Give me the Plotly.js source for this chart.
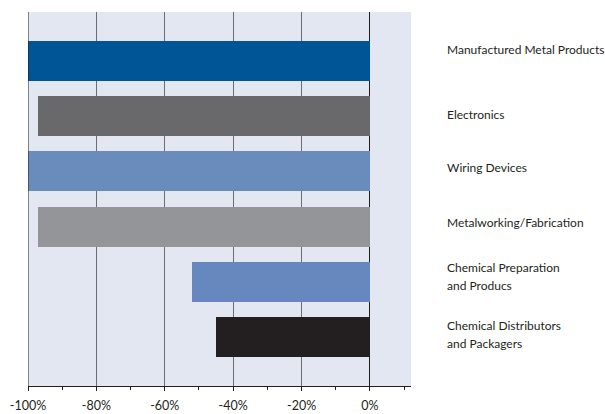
<!DOCTYPE html>
<html>
<head>
<meta charset="utf-8">
<script src="https://cdn.plot.ly/plotly-3.0.1.min.js"></script>
<style>html,body{margin:0;padding:0;background:#fff;}#chart{width:605px;height:414px;}</style>
</head>
<body>
<div id="chart"></div>
<script>
const categories = [
  "Manufactured Metal Products",
  "Electronics",
  "Wiring Devices",
  "Metalworking/Fabrication",
  "Chemical Preparation<br>and Producs",
  "Chemical Distributors<br>and Packagers"
];
const changePct = [-100, -97, -100, -97, -52, -45];
const tickVals = [-100, -80, -60, -40, -20, 0];
const tickText = ["-100%", "-80%", "-60%", "-40%", "-20%", "0%"];

const barColors = ["#005596", "#69696b", "#698cbd", "#939598", "#6688bf", "#231f20"];
const labelShift = [11, 2, 4, 4, 5, 2.5];
const lineGap = 18;

const idx = categories.map((c, i) => i);
const font = "Lato, 'Open Sans', sans-serif";

const trace = {
  type: "bar",
  orientation: "h",
  x: changePct,
  y: idx,
  width: 0.72,
  marker: {color: barColors, line: {width: 0}},
  hoverinfo: "skip"
};

const annotations = [];
categories.forEach((c, i) => {
  const lines = c.split("<br>");
  lines.forEach((ln, j) => {
    const off = (j - (lines.length - 1) / 2) * lineGap;
    annotations.push({
      xref: "paper", yref: "y",
      x: 1, y: i,
      xshift: 34,
      yshift: labelShift[i] - off,
      text: ln,
      showarrow: false,
      xanchor: "left", yanchor: "middle", align: "left",
      font: {family: font, size: 12, color: "#231f20"}
    });
  });
});

const layout = {
  width: 605, height: 414,
  margin: {l: 28, r: 194, t: 12, b: 28},
  paper_bgcolor: "#ffffff",
  plot_bgcolor: "#e3e7f2",
  showlegend: false,
  bargap: 0,
  xaxis: {
    range: [-100, 12],
    tickvals: tickVals,
    ticktext: tickText,
    showgrid: true,
    gridcolor: "#6d6e71",
    gridwidth: 1,
    zeroline: true,
    zerolinecolor: "#231f20",
    zerolinewidth: 1,
    showline: true,
    linecolor: "#231f20",
    linewidth: 1,
    ticks: "outside",
    ticklen: 4,
    tickcolor: "#231f20",
    ticklabelstandoff: 4,
    minor: {dtick: 10, tick0: 0, ticks: "outside", ticklen: 3, tickcolor: "#231f20", showgrid: false},
    tickfont: {family: font, size: 12.5, color: "#231f20"},
    fixedrange: true
  },
  yaxis: {
    range: [5.88, -0.88],
    showticklabels: false,
    showgrid: false,
    zeroline: false,
    showline: false,
    ticks: "",
    fixedrange: true
  },
  shapes: [{
    type: "line", xref: "x", yref: "paper",
    x0: -100, x1: -100, y0: 0, y1: 1,
    line: {color: "#231f20", width: 1}
  }],
  annotations: annotations
};

Plotly.newPlot("chart", [trace], layout, {displayModeBar: false, staticPlot: true});
</script>
</body>
</html>
